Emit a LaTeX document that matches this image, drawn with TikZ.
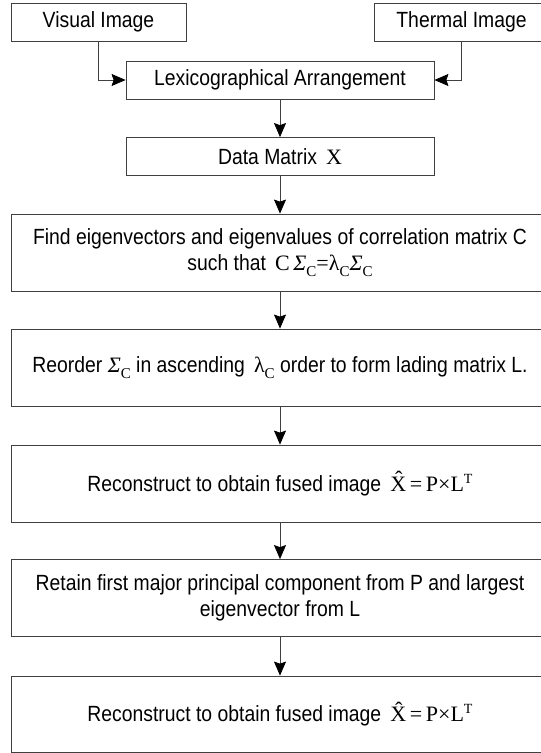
\documentclass[tikz,border=0pt]{standalone}
\usepackage{fontspec}
\setmainfont{Liberation Sans}[FakeStretch=0.88]
\newfontfamily\tmsfont{Liberation Serif}
\usetikzlibrary{arrows.meta,positioning}
\newcommand{\sbC}{\raisebox{-6pt}{\fontsize{15}{15}\selectfont\tmsfont C}}
\newcommand{\Sig}{{\tmsfont\itshape Σ}}
\newcommand{\lam}{{\tmsfont λ}}
\newcommand{\fused}{{\tmsfont X̂\,=\,P×L\raisebox{8pt}{\fontsize{14}{14}\selectfont T}}}

\begin{document}
\begin{tikzpicture}
[x=1pt, y=-1pt, font=\fontsize{22}{26}\selectfont, line width=0.8pt,
>={Stealth[length=14pt, width=12pt, inset=2pt, black]},
box/.style={rectangle, draw=black!75, inner sep=0pt, align=center, minimum height=38pt},
smallbox/.style={box, minimum width=175pt},
midbox/.style={box, minimum width=308pt},
widebox/.style={box, minimum width=538pt, minimum height=77pt},
link/.style={draw=black!75, ->}]

\useasboundingbox (0,0) rectangle (541,753);

% inputs
\node[smallbox] (visual) at (98.5,22) {Visual Image};
\node[smallbox] (thermal) at (461.5,22) {Thermal Image};

\node[midbox] (lexico) at (280,80) {Lexicographical Arrangement};
\node[midbox] (data) at (280,156.5) {Data Matrix \,{\tmsfont X}};

% processing steps
\node[widebox] (eigen) at (280,252.5) {Find eigenvectors and eigenvalues of correlation matrix C\\
such that \,{\tmsfont C}\,\Sig\sbC{\tmsfont =}\lam\sbC\Sig\sbC};
\node[widebox] (reorder) at (280,367.5) {Reorder \Sig\sbC\ in ascending \,\lam\sbC\ order to form lading matrix L.};
\node[widebox] (recon) at (280,483.5) {Reconstruct to obtain fused image \,\fused};
\node[widebox] (retain) at (280,598) {Retain first major principal component from P and largest\\
eigenvector from L};
\node[widebox, minimum height=76pt] (final) at (280,714) {Reconstruct to obtain fused image \,\fused};

\draw[link] (visual.south) |- (lexico.west);
\draw[link] (thermal.south) |- (lexico.east);
\draw[link] (lexico) -- (data);
\draw[link] (data) -- (eigen);
\draw[link] (eigen) -- (reorder);
\draw[link] (reorder) -- (recon);
\draw[link] (recon) -- (retain);
\draw[link] (retain) -- (final);
\end{tikzpicture}
\end{document}
